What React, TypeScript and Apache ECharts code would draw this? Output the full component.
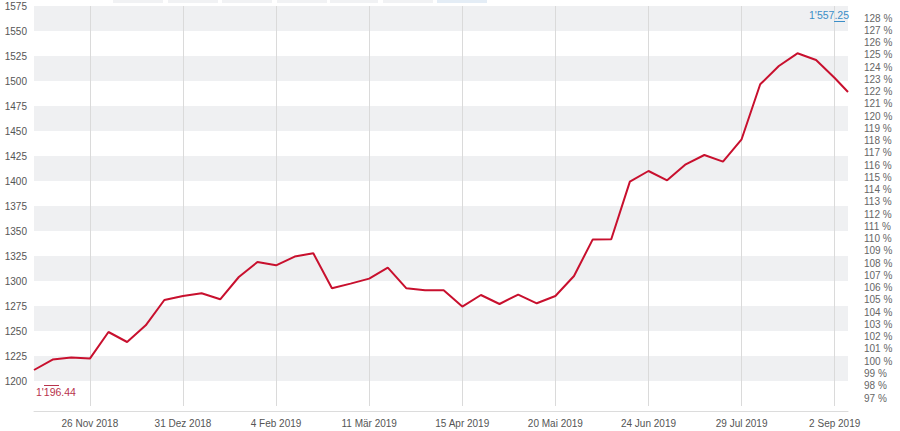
import React, { useEffect, useRef } from 'react';
import * as echarts from 'echarts';

const dates = [
  '2018-11-05', '2018-11-12', '2018-11-19', '2018-11-26', '2018-12-03', '2018-12-10',
  '2018-12-17', '2018-12-24', '2018-12-31', '2019-01-07', '2019-01-14', '2019-01-21',
  '2019-01-28', '2019-02-04', '2019-02-11', '2019-02-18', '2019-02-25', '2019-03-04',
  '2019-03-11', '2019-03-18', '2019-03-25', '2019-04-01', '2019-04-08', '2019-04-15',
  '2019-04-22', '2019-04-29', '2019-05-06', '2019-05-13', '2019-05-20', '2019-05-27',
  '2019-06-03', '2019-06-10', '2019-06-17', '2019-06-24', '2019-07-01', '2019-07-08',
  '2019-07-15', '2019-07-22', '2019-07-29', '2019-08-05', '2019-08-12', '2019-08-19',
  '2019-08-26', '2019-09-02', '2019-09-07',
];

const values = [
  1211, 1221.4, 1223.4, 1222.4, 1249, 1239,
  1255.7, 1281, 1285, 1287.7, 1281.7, 1304,
  1319, 1315.7, 1324.4, 1327.7, 1292.7, 1297.4,
  1302.4, 1313.4, 1292.7, 1290.7, 1290.7, 1274.4,
  1286, 1277, 1286.4, 1277.7, 1285, 1305,
  1341.4, 1341.7, 1399.4, 1410, 1400.7, 1416.7,
  1426, 1419.4, 1441.7, 1496.7, 1515, 1527.7,
  1521, 1503, 1489,
];

const tickDates = [
  '2018-11-26', '2018-12-31', '2019-02-04', '2019-03-11', '2019-04-15',
  '2019-05-20', '2019-06-24', '2019-07-29', '2019-09-02',
];
const tickLabels = [
  '26 Nov 2018', '31 Dez 2018', '4 Feb 2019', '11 Mär 2019', '15 Apr 2019',
  '20 Mai 2019', '24 Jun 2019', '29 Jul 2019', '2 Sep 2019',
];

const xMin = '2018-11-05';
const xMax = '2019-09-07';
const yMin = 1175;
const yMax = 1575;
const yStep = 25;
const pctMin = 97;
const pctMax = 128;
const maxLabel = "1'557.25";
const minLabel = "1'196.44";

const FONT = "'Liberation Sans', Arial, Helvetica, sans-serif";

function toTs(s: string) {
  const [y, m, d] = s.split('-').map(Number);
  return Date.UTC(y, m - 1, d);
}

export default function App() {
  const ref = useRef<HTMLDivElement>(null);

  useEffect(() => {
    if (!ref.current) return;
    const chart = echarts.init(ref.current, undefined, { renderer: 'svg' });
    const tickTs = tickDates.map(toTs);

    const topButtons = [
      [113, 50], [168, 50], [222, 50], [277, 50], [330, 48], [383, 50], [437, 50],
    ];

    chart.setOption({
      animation: false,
      textStyle: { fontFamily: FONT },
      grid: [
        { left: 34, right: 52, top: 6, height: 400, outerBoundsMode: 'none', containLabel: false },
        { left: 34, right: 52, top: 18, height: 380, outerBoundsMode: 'none', containLabel: false },
      ],
      xAxis: [
        {
          type: 'value',
          gridIndex: 0,
          min: toTs(xMin),
          max: toTs(xMax),
          offset: 5,
          axisLine: { show: true, lineStyle: { color: '#dcdcdc', width: 1 } },
          axisTick: { show: false, customValues: tickTs },
          axisLabel: {
            customValues: tickTs,
            color: '#555',
            fontSize: 10,
            fontFamily: FONT,
            margin: 7,
            formatter: (v: number) => {
              const idx = tickTs.findIndex((t) => Math.abs(t - v) < 43200000);
              return idx >= 0 ? tickLabels[idx] : '';
            },
          },
          splitLine: { show: true, lineStyle: { color: '#dadada', width: 1 } },
        },
        {
          type: 'value',
          gridIndex: 1,
          show: false,
          min: 0,
          max: 1,
        },
      ],
      yAxis: [
        {
          type: 'value',
          gridIndex: 0,
          min: yMin,
          max: yMax,
          interval: yStep,
          axisLine: { show: false },
          axisTick: { show: false },
          axisLabel: {
            color: '#555',
            fontSize: 10,
            fontFamily: FONT,
            margin: 7,
            showMinLabel: false,
            formatter: (v: number) => String(v),
          },
          splitLine: { show: false },
          splitArea: { show: true, areaStyle: { color: ['#ffffff', '#eff0f2'] } },
        },
        {
          type: 'value',
          gridIndex: 1,
          position: 'right',
          min: pctMin,
          max: pctMax,
          interval: 1,
          axisLine: { show: false },
          axisTick: { show: false },
          splitLine: { show: false },
          axisLabel: {
            color: '#666',
            fontSize: 10,
            fontFamily: FONT,
            margin: 16,
            formatter: '{value} %',
          },
        },
      ],
      series: [
        {
          type: 'line',
          xAxisIndex: 0,
          yAxisIndex: 0,
          data: dates.map((d, i) => [toTs(d), values[i]]),
          showSymbol: false,
          symbol: 'none',
          lineStyle: { color: '#c8102e', width: 2 },
          z: 5,
        },
      ],
      graphic: [
        ...topButtons.map(([x, w], i) => ({
          type: 'rect',
          shape: { x, y: 0, width: w, height: 3 },
          style: { fill: i === topButtons.length - 1 ? '#e4edf6' : '#f1f2f4' },
          silent: true,
        })),
        {
          type: 'text',
          x: 849,
          y: 15,
          style: {
            text: maxLabel,
            fill: '#3b8ec8',
            fontSize: 10.5,
            fontFamily: FONT,
            align: 'right',
            verticalAlign: 'middle',
          },
          z: 10,
        },
        {
          type: 'line',
          shape: { x1: 834, y1: 21.5, x2: 845, y2: 21.5 },
          style: { stroke: '#3b8ec8', lineWidth: 1 },
          z: 10,
        },
        {
          type: 'text',
          x: 36,
          y: 392,
          style: {
            text: minLabel,
            fill: '#b8334c',
            fontSize: 10.5,
            fontFamily: FONT,
            align: 'left',
            verticalAlign: 'middle',
          },
          z: 10,
        },
        {
          type: 'line',
          shape: { x1: 44, y1: 385.5, x2: 59, y2: 385.5 },
          style: { stroke: '#b8334c', lineWidth: 1 },
          z: 10,
        },
      ],
    });

    return () => chart.dispose();
  }, []);

  return (
    <div
      ref={ref}
      style={{ position: 'absolute', left: 0, top: 0, width: 900, height: 431, background: '#fff' }}
    />
  );
}
